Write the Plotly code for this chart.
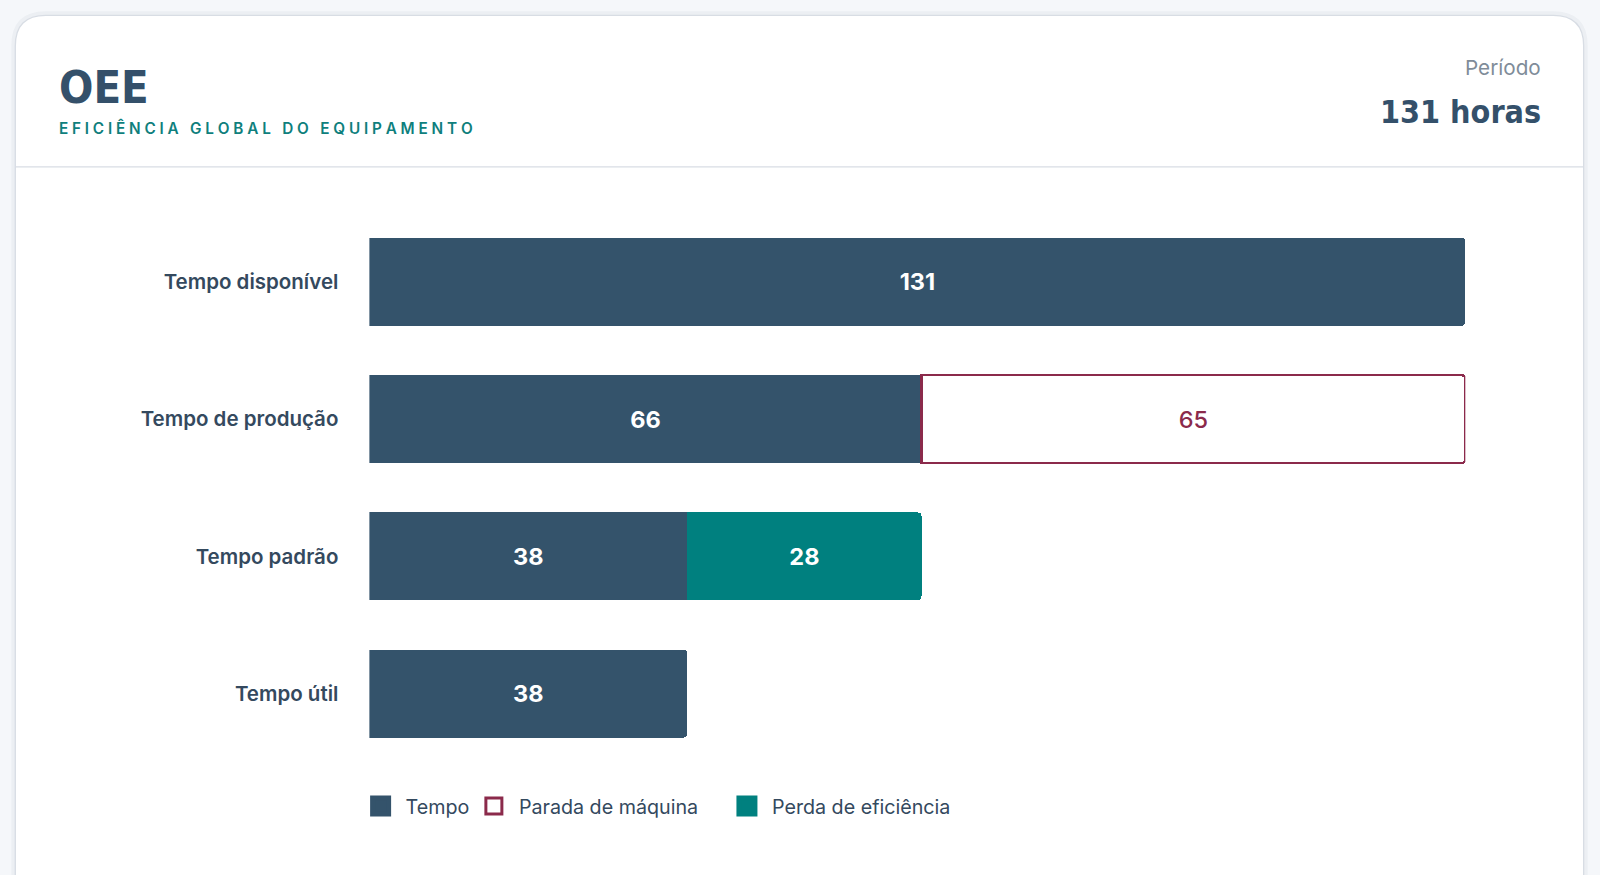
import plotly.graph_objects as go

# ---- data ----
categories = ["Tempo disponível", "Tempo de produção", "Tempo padrão", "Tempo útil"]
tempo_values = [131, 66, 38, 38]
parada_categories = ["Tempo de produção"]
parada_values = [65]
perda_categories = ["Tempo padrão"]
perda_values = [28]
legend_labels = ["Tempo", "Parada de máquina", "Perda de eficiência"]
title_text = "OEE"
subtitle_text = "EFICIÊNCIA GLOBAL DO EQUIPAMENTO"
period_label = "Período"
period_value = "131 horas"

W, H = 1600, 875
S = 1600 / 1568  # layout measured on a 1568-wide view
C_TEMPO = "#34536b"
C_PARADA = "#8b2a4b"
C_PERDA = "#00807f"
C_TEXT = "#34495e"
FONT = "Inter, Noto Sans, sans-serif"
COND = "Liberation Sans Narrow, DejaVu Sans Condensed, sans-serif"


def px(x):
    return x * S / W


def py(y):
    return 1 - y * S / H


fig = go.Figure()

fig.add_trace(go.Bar(
    y=categories, x=tempo_values, orientation="h", name=legend_labels[0],
    marker=dict(color=C_TEMPO, line=dict(width=0), cornerradius=4),
    text=tempo_values, texttemplate="%{text}", textposition="inside",
    insidetextanchor="middle", textangle=0, constraintext="none",
    textfont=dict(family=FONT, size=23.5, color="white", weight=700),
    showlegend=False, hoverinfo="skip",
))
fig.add_trace(go.Bar(
    y=parada_categories, x=parada_values, orientation="h", name=legend_labels[1],
    marker=dict(color="white", line=dict(width=2.5, color=C_PARADA), cornerradius=4),
    text=parada_values, texttemplate="%{text}", textposition="inside",
    insidetextanchor="middle", textangle=0, constraintext="none",
    textfont=dict(family=FONT, size=23.5, color=C_PARADA, weight=500),
    showlegend=False, hoverinfo="skip",
))
fig.add_trace(go.Bar(
    y=perda_categories, x=perda_values, orientation="h", name=legend_labels[2],
    marker=dict(color=C_PERDA, line=dict(width=0), cornerradius=4),
    text=perda_values, texttemplate="%{text}", textposition="inside",
    insidetextanchor="middle", textangle=0, constraintext="none",
    textfont=dict(family=FONT, size=23.5, color="white", weight=700),
    showlegend=False, hoverinfo="skip",
))

# legend entries (one legend per item for exact placement)
leg_specs = [
    (legend_labels[0], dict(color=C_TEMPO, line=dict(width=5, color=C_TEMPO)), "legend"),
    (legend_labels[1], dict(color="white", line=dict(width=3, color=C_PARADA)), "legend2"),
    (legend_labels[2], dict(color=C_PERDA, line=dict(width=5, color=C_PERDA)), "legend3"),
]
for name, mk, lg in leg_specs:
    fig.add_trace(go.Scatter(
        x=[None], y=[None], mode="markers", name=name, legend=lg,
        marker=dict(symbol="square", size=22, **mk), hoverinfo="skip",
    ))

leg_common = dict(orientation="h", yanchor="middle", xanchor="left",
                  font=dict(family=FONT, size=19.7, color=C_TEXT),
                  bgcolor="rgba(0,0,0,0)", itemwidth=40, itemsizing="trace")
fig.update_layout(
    legend=dict(x=px(348.5), y=py(790), **leg_common),
    legend2=dict(x=px(459.5), y=py(790), **leg_common),
    legend3=dict(x=px(707.5), y=py(790), **leg_common),
)

# card shapes
r = 30
x0, x1, y0, y1 = 15, 1552, 15, 900

card = (f"M {px(x0)},{py(y1)} L {px(x0)},{py(y0 + r)} "
        f"Q {px(x0)},{py(y0)} {px(x0 + r)},{py(y0)} "
        f"L {px(x1 - r)},{py(y0)} "
        f"Q {px(x1)},{py(y0)} {px(x1)},{py(y0 + r)} "
        f"L {px(x1)},{py(y1)} Z")
fig.add_shape(type="path", path=card, xref="paper", yref="paper", layer="below",
              line=dict(color="rgba(30,50,80,0.04)", width=8), fillcolor="rgba(0,0,0,0)")
fig.add_shape(type="path", path=card, xref="paper", yref="paper", layer="below",
              line=dict(color="#d8dde4", width=1.3), fillcolor="white")
fig.add_shape(type="line", xref="paper", yref="paper", layer="below",
              x0=px(x0), x1=px(x1), y0=py(163.5), y1=py(163.5),
              line=dict(color="#d8dde4", width=1.3))

# header text
spaced_sub = "\u2009\u200a".join(list(subtitle_text))
fig.add_annotation(x=px(56), y=py(86), xref="paper", yref="paper", xanchor="left", yanchor="middle",
                   text=title_text, showarrow=False,
                   font=dict(family=COND, size=45, color="#34506a", weight=700))
fig.add_annotation(x=px(56), y=py(125), xref="paper", yref="paper", xanchor="left", yanchor="middle",
                   text=spaced_sub, showarrow=False,
                   font=dict(family=FONT, size=15.3, color="#0f7f7d", weight=600))
fig.add_annotation(x=px(1512), y=py(66), xref="paper", yref="paper", xanchor="right", yanchor="middle",
                   text=period_label, showarrow=False,
                   font=dict(family=FONT, size=20.7, color="#7f8c99"))
fig.add_annotation(x=px(1512), y=py(110), xref="paper", yref="paper", xanchor="right", yanchor="middle",
                   text=period_value, showarrow=False,
                   font=dict(family=COND, size=32, color="#34506a", weight=700))

fig.update_layout(
    width=W, height=H,
    margin=dict(l=0, r=0, t=0, b=0),
    paper_bgcolor="#f5f7fa",
    plot_bgcolor="rgba(0,0,0,0)",
    barmode="stack",
    bargap=0.36,
    xaxis=dict(domain=[px(362), px(1436)], range=[0, 131], visible=False, fixedrange=True),
    yaxis=dict(domain=[py(747), py(209)], type="category", categoryorder="array",
               categoryarray=categories, range=[3.5, -0.5], showgrid=False, zeroline=False,
               showline=False, ticks="", ticklabelstandoff=30,
               tickfont=dict(family=FONT, size=20.5, color=C_TEXT, weight=600), fixedrange=True),
    font=dict(family=FONT),
    hovermode=False,
)

fig.write_html(
    "out.html",
    config={"displayModeBar": False},
    post_script="document.body.style.margin='0';document.body.style.overflow='hidden';",
)
